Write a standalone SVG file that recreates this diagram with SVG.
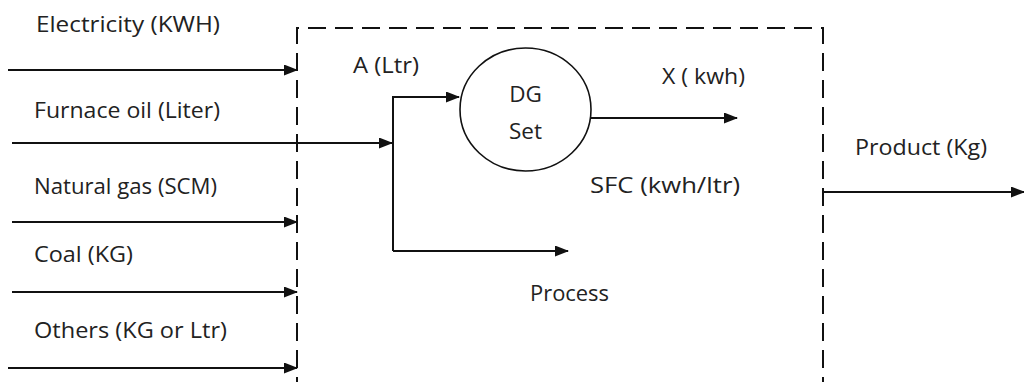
<svg xmlns="http://www.w3.org/2000/svg" width="1024" height="382" viewBox="0 0 1024 382">
<defs>
<style>
text{font-family:"Open Sans","Liberation Sans",sans-serif;font-size:22.5px;fill:#222}
.ln{stroke:#111;stroke-width:2;fill:none}
.box{stroke:#111;stroke-width:2;fill:none;stroke-dasharray:18 9}
</style>
<marker id="ah" viewBox="0 0 14 11" refX="13" refY="5.5" markerWidth="14" markerHeight="11" markerUnits="userSpaceOnUse" orient="auto">
<path d="M0,0 L14,5.5 L0,11 Z" fill="#111"/>
</marker>
</defs>
<rect width="1024" height="382" fill="#fff"/>
<g id="boundary">
<path class="box" d="M297,395 V28 H823 V395"/>
</g>
<g id="connectors">
<line class="ln" x1="8" y1="70" x2="297" y2="70" marker-end="url(#ah)"/>
<line class="ln" x1="12" y1="143" x2="392" y2="143" marker-end="url(#ah)"/>
<line class="ln" x1="12" y1="222" x2="297" y2="222" marker-end="url(#ah)"/>
<line class="ln" x1="12" y1="292" x2="297" y2="292" marker-end="url(#ah)"/>
<line class="ln" x1="8" y1="368" x2="297" y2="368" marker-end="url(#ah)"/>
<path class="ln" d="M393,251 V97 H459" marker-end="url(#ah)"/>
<line class="ln" x1="393" y1="251" x2="568" y2="251" marker-end="url(#ah)"/>
<line class="ln" x1="591" y1="118" x2="737" y2="118" marker-end="url(#ah)"/>
<line class="ln" x1="823" y1="192" x2="1024" y2="192" marker-end="url(#ah)"/>
</g>
<g id="inputs">
<text x="36" y="32" textLength="184" lengthAdjust="spacingAndGlyphs">Electricity (KWH)</text>
<text x="34" y="118" textLength="186" lengthAdjust="spacingAndGlyphs">Furnace oil (Liter)</text>
<text x="34" y="194" textLength="183" lengthAdjust="spacingAndGlyphs">Natural gas (SCM)</text>
<text x="34" y="262" textLength="99" lengthAdjust="spacingAndGlyphs">Coal (KG)</text>
<text x="34" y="338" textLength="193" lengthAdjust="spacingAndGlyphs">Others (KG or Ltr)</text>
</g>
<g id="dg-set">
<ellipse cx="525.5" cy="109.5" rx="65.5" ry="61.5" fill="none" stroke="#111" stroke-width="1.6"/>
<text x="525.5" y="102" text-anchor="middle">DG</text>
<text x="525.5" y="139" text-anchor="middle">Set</text>
</g>
<g id="labels">
<text x="353" y="73" textLength="66" lengthAdjust="spacingAndGlyphs">A (Ltr)</text>
<text x="662" y="84" textLength="83" lengthAdjust="spacingAndGlyphs">X ( kwh)</text>
<text x="590" y="193" textLength="150" lengthAdjust="spacingAndGlyphs">SFC (kwh/ltr)</text>
<text x="530" y="301" textLength="79" lengthAdjust="spacingAndGlyphs">Process</text>
<text x="855" y="155" textLength="132" lengthAdjust="spacingAndGlyphs">Product (Kg)</text>
</g>
</svg>
